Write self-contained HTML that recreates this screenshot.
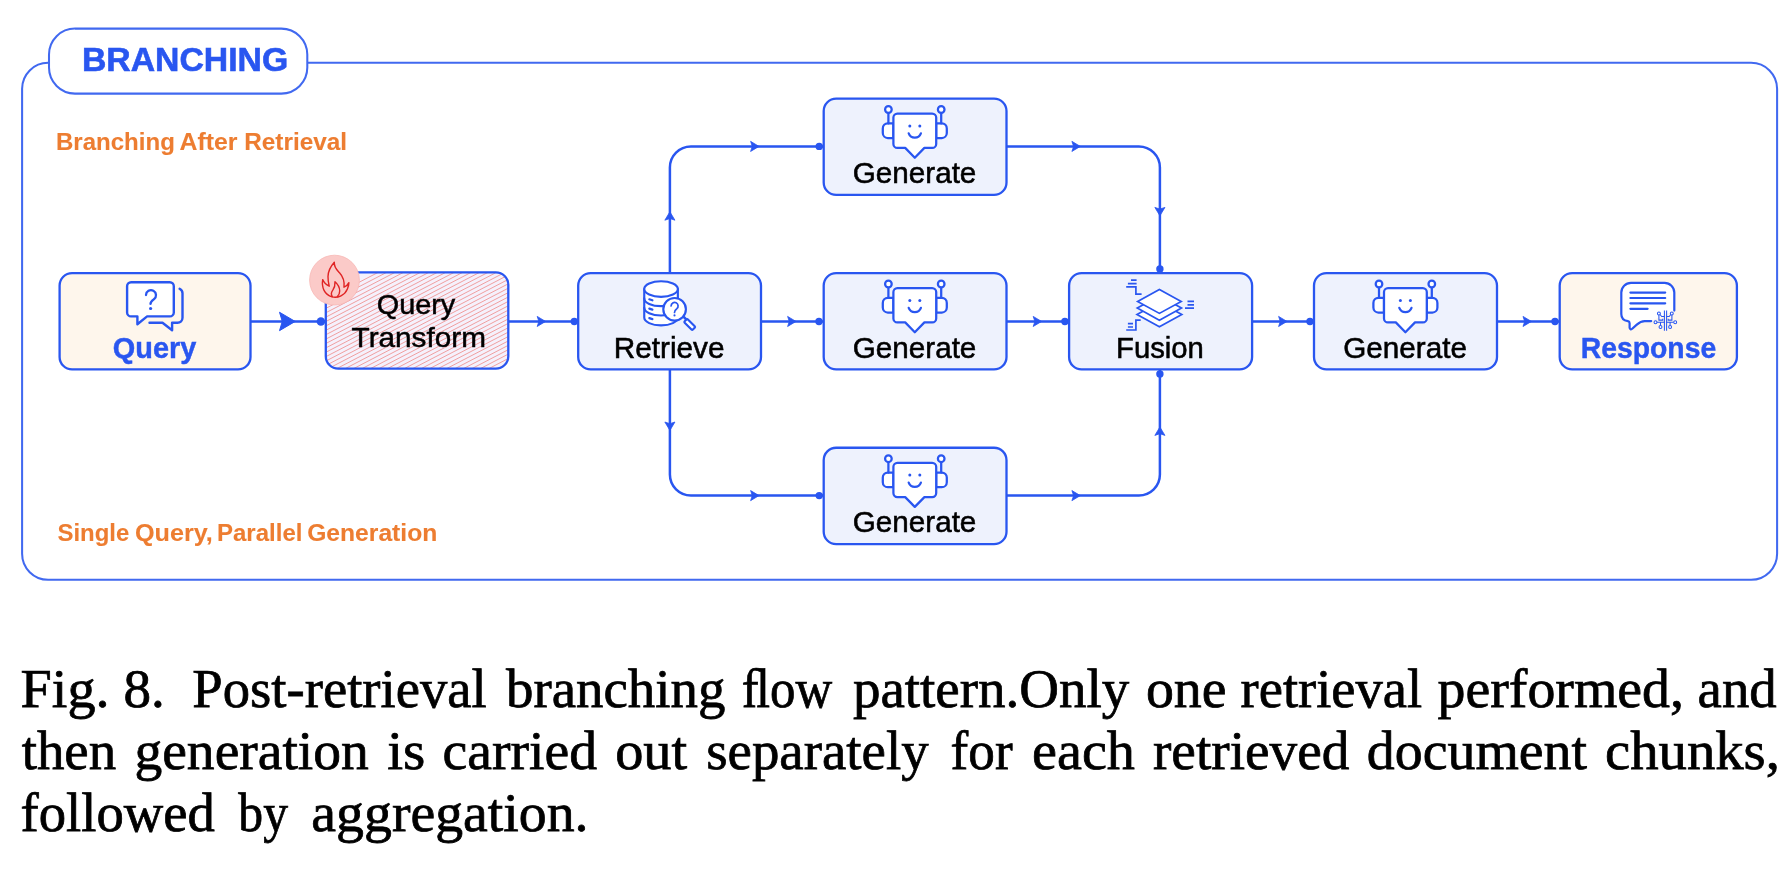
<!DOCTYPE html>
<html><head><meta charset="utf-8"><title>Fig. 8 Branching</title>
<style>
html,body{margin:0;padding:0;background:#fff;}
body{width:1792px;height:875px;overflow:hidden;font-family:"Liberation Sans",sans-serif;}
svg{display:block;}
text{white-space:pre;}
</style></head><body>
<svg width="1792" height="875" viewBox="0 0 1792 875">
<defs>
<filter id="gray" filterUnits="userSpaceOnUse" x="0" y="0" width="1792" height="875"><feOffset dx="0" dy="0"/></filter>
</defs>
<rect x="22.1" y="62.8" width="1755.0" height="517.0" rx="26" ry="26" fill="none" stroke="#4169F0" stroke-width="2.05"/>
<rect x="49" y="28.6" width="258.3" height="65" rx="26" ry="26" fill="#fff" stroke="#4169F0" stroke-width="2.05"/>
<g fill="none" stroke="#2956F0" stroke-width="2.5">
<path d="M250.3 321.45 H325.8 M508.4 321.45 H578.2 M761 321.45 H823.4 M1006.4 321.45 H1069.1 M1252.1 321.45 H1314 M1497 321.45 H1560"/>
<path d="M669.9 273.05 V167.4 a21 21 0 0 1 21 -21 H823.4 M1006.4 146.4 H1138.9 a21 21 0 0 1 21 21 V273.05"/>
<path d="M669.9 369.45 V474.6 a21 21 0 0 0 21 21 H823.4 M1006.4 495.6 H1138.9 a21 21 0 0 0 21 -21 V369.45"/>
</g>
<path d="M295.2 321.45 L279.5 312.25 L282.3 321.45 L279.5 330.65 Z" fill="#2956F0" stroke="#2956F0" stroke-width="1" stroke-linejoin="round"/>
<circle cx="320.9" cy="321.45" r="4.3" fill="#2956F0"/>
<path d="M545.6 321.45 L537.2 316.4 L538.9000000000001 321.45 L537.2 326.5 Z" fill="#2956F0" stroke="#2956F0" stroke-width="0.8" stroke-linejoin="round"/>
<path d="M796 321.45 L787.6 316.4 L789.3000000000001 321.45 L787.6 326.5 Z" fill="#2956F0" stroke="#2956F0" stroke-width="0.8" stroke-linejoin="round"/>
<path d="M1041.6 321.45 L1033.1999999999998 316.4 L1034.8999999999999 321.45 L1033.1999999999998 326.5 Z" fill="#2956F0" stroke="#2956F0" stroke-width="0.8" stroke-linejoin="round"/>
<path d="M1287 321.45 L1278.6 316.4 L1280.3 321.45 L1278.6 326.5 Z" fill="#2956F0" stroke="#2956F0" stroke-width="0.8" stroke-linejoin="round"/>
<path d="M1531.4 321.45 L1523.0 316.4 L1524.7 321.45 L1523.0 326.5 Z" fill="#2956F0" stroke="#2956F0" stroke-width="0.8" stroke-linejoin="round"/>
<circle cx="574.3" cy="321.45" r="3.7" fill="#2956F0"/>
<circle cx="819" cy="321.45" r="3.7" fill="#2956F0"/>
<circle cx="1064.9" cy="321.45" r="3.7" fill="#2956F0"/>
<circle cx="1310" cy="321.45" r="3.7" fill="#2956F0"/>
<circle cx="1555.0" cy="321.45" r="3.7" fill="#2956F0"/>
<path d="M669.9 211.8 L664.85 220.20000000000002 L669.9 218.50000000000003 L674.9499999999999 220.20000000000002 Z" fill="#2956F0" stroke="#2956F0" stroke-width="0.8" stroke-linejoin="round"/>
<path d="M759 146.4 L750.6 141.35 L752.3000000000001 146.4 L750.6 151.45000000000002 Z" fill="#2956F0" stroke="#2956F0" stroke-width="0.8" stroke-linejoin="round"/>
<circle cx="819.2" cy="146.4" r="3.7" fill="#2956F0"/>
<path d="M1080.3 146.4 L1071.8999999999999 141.35 L1073.6 146.4 L1071.8999999999999 151.45000000000002 Z" fill="#2956F0" stroke="#2956F0" stroke-width="0.8" stroke-linejoin="round"/>
<path d="M1159.9 215.8 L1154.8500000000001 207.4 L1159.9 209.1 L1164.95 207.4 Z" fill="#2956F0" stroke="#2956F0" stroke-width="0.8" stroke-linejoin="round"/>
<circle cx="1159.9" cy="268.9" r="3.7" fill="#2956F0"/>
<path d="M669.9 430.4 L664.85 422.0 L669.9 423.7 L674.9499999999999 422.0 Z" fill="#2956F0" stroke="#2956F0" stroke-width="0.8" stroke-linejoin="round"/>
<path d="M759 495.6 L750.6 490.55 L752.3000000000001 495.6 L750.6 500.65000000000003 Z" fill="#2956F0" stroke="#2956F0" stroke-width="0.8" stroke-linejoin="round"/>
<circle cx="819.2" cy="495.6" r="3.7" fill="#2956F0"/>
<path d="M1080.3 495.6 L1071.8999999999999 490.55 L1073.6 495.6 L1071.8999999999999 500.65000000000003 Z" fill="#2956F0" stroke="#2956F0" stroke-width="0.8" stroke-linejoin="round"/>
<path d="M1159.9 427 L1154.8500000000001 435.4 L1159.9 433.7 L1164.95 435.4 Z" fill="#2956F0" stroke="#2956F0" stroke-width="0.8" stroke-linejoin="round"/>
<circle cx="1159.9" cy="373.9" r="3.7" fill="#2956F0"/>
<rect x="59.6" y="273.05" width="190.90" height="96.40" rx="12.5" ry="12.5" fill="#FEF6EC" stroke="#2956F0" stroke-width="2.3" />
<clipPath id="qtclip"><rect x="325.8" y="272.3" width="182.5" height="96.4" rx="12.5" ry="12.5"/></clipPath>
<rect x="325.8" y="272.3" width="182.5" height="96.4" rx="12.5" ry="12.5" fill="#F5F1FC"/>
<path clip-path="url(#qtclip)" d="M-57.10 498.70 L442.90 238.70 M-48.65 498.70 L451.35 238.70 M-40.20 498.70 L459.80 238.70 M-31.75 498.70 L468.25 238.70 M-23.30 498.70 L476.70 238.70 M-14.85 498.70 L485.15 238.70 M-6.40 498.70 L493.60 238.70 M2.05 498.70 L502.05 238.70 M10.50 498.70 L510.50 238.70 M18.95 498.70 L518.95 238.70 M27.40 498.70 L527.40 238.70 M35.85 498.70 L535.85 238.70 M44.30 498.70 L544.30 238.70 M52.75 498.70 L552.75 238.70 M61.20 498.70 L561.20 238.70 M69.65 498.70 L569.65 238.70 M78.10 498.70 L578.10 238.70 M86.55 498.70 L586.55 238.70 M95.00 498.70 L595.00 238.70 M103.45 498.70 L603.45 238.70 M111.90 498.70 L611.90 238.70 M120.35 498.70 L620.35 238.70 M128.80 498.70 L628.80 238.70 M137.25 498.70 L637.25 238.70 M145.70 498.70 L645.70 238.70 M154.15 498.70 L654.15 238.70 M162.60 498.70 L662.60 238.70 M171.05 498.70 L671.05 238.70 M179.50 498.70 L679.50 238.70 M187.95 498.70 L687.95 238.70 M196.40 498.70 L696.40 238.70 M204.85 498.70 L704.85 238.70 M213.30 498.70 L713.30 238.70 M221.75 498.70 L721.75 238.70 M230.20 498.70 L730.20 238.70 M238.65 498.70 L738.65 238.70 M247.10 498.70 L747.10 238.70 M255.55 498.70 L755.55 238.70 M264.00 498.70 L764.00 238.70 M272.45 498.70 L772.45 238.70 M280.90 498.70 L780.90 238.70 M289.35 498.70 L789.35 238.70 M297.80 498.70 L797.80 238.70 M306.25 498.70 L806.25 238.70 M314.70 498.70 L814.70 238.70 M323.15 498.70 L823.15 238.70 M331.60 498.70 L831.60 238.70 M340.05 498.70 L840.05 238.70 M348.50 498.70 L848.50 238.70 M356.95 498.70 L856.95 238.70 M365.40 498.70 L865.40 238.70 M373.85 498.70 L873.85 238.70 M382.30 498.70 L882.30 238.70 M390.75 498.70 L890.75 238.70 M399.20 498.70 L899.20 238.70 M407.65 498.70 L907.65 238.70 M416.10 498.70 L916.10 238.70 M424.55 498.70 L924.55 238.70 M433.00 498.70 L933.00 238.70 M441.45 498.70 L941.45 238.70 M449.90 498.70 L949.90 238.70 M458.35 498.70 L958.35 238.70 M466.80 498.70 L966.80 238.70 M475.25 498.70 L975.25 238.70 M483.70 498.70 L983.70 238.70 M492.15 498.70 L992.15 238.70 M500.60 498.70 L1000.60 238.70 M509.05 498.70 L1009.05 238.70" fill="none" stroke="#EF9A9A" stroke-width="0.95"/>
<rect x="325.8" y="272.3" width="182.50" height="96.40" rx="12.5" ry="12.5" fill="none" stroke="#2956F0" stroke-width="2.3" />
<rect x="578.2" y="273.05" width="182.80" height="96.40" rx="12.5" ry="12.5" fill="#EEF2FD" stroke="#2956F0" stroke-width="2.3" />
<rect x="823.7" y="273.05" width="182.80" height="96.40" rx="12.5" ry="12.5" fill="#EEF2FD" stroke="#2956F0" stroke-width="2.3" />
<rect x="823.7" y="98.55000000000001" width="182.80" height="96.40" rx="12.5" ry="12.5" fill="#EEF2FD" stroke="#2956F0" stroke-width="2.3" />
<rect x="823.7" y="447.75" width="182.80" height="96.40" rx="12.5" ry="12.5" fill="#EEF2FD" stroke="#2956F0" stroke-width="2.3" />
<rect x="1069.1" y="273.05" width="183.00" height="96.40" rx="12.5" ry="12.5" fill="#EEF2FD" stroke="#2956F0" stroke-width="2.3" />
<rect x="1314" y="273.05" width="183.00" height="96.40" rx="12.5" ry="12.5" fill="#EEF2FD" stroke="#2956F0" stroke-width="2.3" />
<rect x="1559.7" y="273.05" width="177.20" height="96.40" rx="12.5" ry="12.5" fill="#FEF6EC" stroke="#2956F0" stroke-width="2.3" />
<g fill="none" stroke="#2956F0" stroke-width="2.4" stroke-linejoin="round" stroke-linecap="round"><path d="M179.6 288.8 C181.4 289.8 182.5 291.2 182.5 293.2 V317.8 a5 5 0 0 1 -5 5 H172.1 V330.2 L162.5 322.8 H149.5"/><path fill="#fff" d="M131.1 282.3 H169.8 a4 4 0 0 1 4 4 V312.4 a4 4 0 0 1 -4 4 H147.1 L137.4 324.2 V316.4 H131.1 a4 4 0 0 1 -4 -4 V286.3 a4 4 0 0 1 4 -4 Z"/><path stroke-width="2.3" d="M146 295 a5 5 0 1 1 7.9 4.2 c-2.2 1.6 -3.4 2.4 -3.4 4.7"/></g><circle cx="150.6" cy="308.5" r="1.6" fill="#2956F0"/>
<circle cx="334.5" cy="280.1" r="24.9" fill="#FBCAC8" stroke="#F7B7B5" stroke-width="0.8"/><g fill="none" stroke="#E02424" stroke-width="1.4" stroke-linejoin="round" stroke-linecap="round"><path d="M334.3 262.3 C330.6 266.4 328.2 270.8 328 276.5 C327.9 280.5 328.6 283.6 329.2 286.2 C326.2 284.9 324 282.8 322.7 279.6 C321.4 287.5 324.5 294.5 332 296.9 C338 298.4 344.8 295.2 347.4 289 C348.4 286.6 348.9 284.6 348.9 282.6 C347.8 284.8 346.3 286.3 344 287.2 C344.6 281.8 343.4 277 339.5 272.8 C336.6 269.7 333.8 267.3 334.3 262.3 Z"/><path d="M332.3 296.6 C330.6 294.2 331.2 292.3 332.8 290.2 C334.4 287.9 335.2 285.2 335 281.7 C337.8 284.1 339.7 287.6 339.7 291 C339.7 293.3 338.8 295.2 337.4 296.6"/></g>
<g fill="#fff" stroke="#2956F0" stroke-width="2.15" stroke-linejoin="round" stroke-linecap="round"><path d="M644.25 289 V317.6 a16.8 7.8 0 0 0 33.6 0 V289 Z"/><path d="M644.25 298.4 a16.8 7.8 0 0 0 33.6 0" fill="none"/><path d="M644.25 307.7 a16.8 7.8 0 0 0 33.6 0" fill="none"/><ellipse cx="661.05" cy="289" rx="16.8" ry="7.8"/><path d="M649.3 299.3 L652.4 300.3" fill="none" stroke-width="2.2"/><path d="M649.3 308.6 L652.4 309.6" fill="none" stroke-width="2.2"/><path d="M649.3 318.1 L652.4 319.1" fill="none" stroke-width="2.2"/><path d="M683.2 316.4 L686.2 319.4" fill="none" stroke-width="2.6"/><rect x="-2.3" y="0" width="4.6" height="11.6" rx="1" transform="translate(685.6 320.4) rotate(-45)"/><circle cx="674.6" cy="309.3" r="11.3"/><path stroke-width="1.7" fill="none" d="M671.1 305.9 a3.5 3.5 0 1 1 5.7 2.8 c-1.6 1.2 -2.3 1.9 -2.3 3.8"/></g><circle cx="674.5" cy="315.4" r="1.05" fill="#2956F0"/>
<g fill="#fff" stroke="#2956F0" stroke-width="2.25" stroke-linejoin="round" stroke-linecap="round"><path d="M893.4 297.9 H887.8 a5 5 0 0 0 -5 5 V307.5 a5 5 0 0 0 5 5 H893.4 Z"/><path d="M936.1999999999999 297.9 H941.8 a5 5 0 0 1 5 5 V307.5 a5 5 0 0 1 -5 5 H936.1999999999999 Z"/><path d="M888.4 287.4 V297.9 M941.1999999999999 287.4 V297.9" fill="none"/><circle cx="888.4" cy="284.0" r="3.3"/><circle cx="941.1999999999999" cy="284.0" r="3.3"/><path d="M897.4 288.1 H932.1999999999999 a4 4 0 0 1 4 4 V318.4 a4 4 0 0 1 -4 4 H924.4 L914.8 332.2 L905.1999999999999 322.4 H897.4 a4 4 0 0 1 -4 -4 V292.1 a4 4 0 0 1 4 -4 Z"/><path d="M908.6999999999999 307.9 a6.5 6.5 0 0 0 12.2 0" fill="none"/></g><circle cx="909.8" cy="300.4" r="1.5" fill="#2956F0"/><circle cx="919.8" cy="300.4" r="1.5" fill="#2956F0"/>
<g fill="#fff" stroke="#2956F0" stroke-width="2.25" stroke-linejoin="round" stroke-linecap="round"><path d="M893.4 123.4 H887.8 a5 5 0 0 0 -5 5 V133.0 a5 5 0 0 0 5 5 H893.4 Z"/><path d="M936.1999999999999 123.4 H941.8 a5 5 0 0 1 5 5 V133.0 a5 5 0 0 1 -5 5 H936.1999999999999 Z"/><path d="M888.4 112.9 V123.4 M941.1999999999999 112.9 V123.4" fill="none"/><circle cx="888.4" cy="109.5" r="3.3"/><circle cx="941.1999999999999" cy="109.5" r="3.3"/><path d="M897.4 113.6 H932.1999999999999 a4 4 0 0 1 4 4 V143.9 a4 4 0 0 1 -4 4 H924.4 L914.8 157.7 L905.1999999999999 147.9 H897.4 a4 4 0 0 1 -4 -4 V117.6 a4 4 0 0 1 4 -4 Z"/><path d="M908.6999999999999 133.4 a6.5 6.5 0 0 0 12.2 0" fill="none"/></g><circle cx="909.8" cy="125.9" r="1.5" fill="#2956F0"/><circle cx="919.8" cy="125.9" r="1.5" fill="#2956F0"/>
<g fill="#fff" stroke="#2956F0" stroke-width="2.25" stroke-linejoin="round" stroke-linecap="round"><path d="M893.4 472.6 H887.8 a5 5 0 0 0 -5 5 V482.2 a5 5 0 0 0 5 5 H893.4 Z"/><path d="M936.1999999999999 472.6 H941.8 a5 5 0 0 1 5 5 V482.2 a5 5 0 0 1 -5 5 H936.1999999999999 Z"/><path d="M888.4 462.1 V472.6 M941.1999999999999 462.1 V472.6" fill="none"/><circle cx="888.4" cy="458.7" r="3.3"/><circle cx="941.1999999999999" cy="458.7" r="3.3"/><path d="M897.4 462.8 H932.1999999999999 a4 4 0 0 1 4 4 V493.1 a4 4 0 0 1 -4 4 H924.4 L914.8 506.9 L905.1999999999999 497.1 H897.4 a4 4 0 0 1 -4 -4 V466.8 a4 4 0 0 1 4 -4 Z"/><path d="M908.6999999999999 482.6 a6.5 6.5 0 0 0 12.2 0" fill="none"/></g><circle cx="909.8" cy="475.1" r="1.5" fill="#2956F0"/><circle cx="919.8" cy="475.1" r="1.5" fill="#2956F0"/>
<g fill="#fff" stroke="#2956F0" stroke-width="1.7" stroke-linejoin="miter"><path d="M1137.0 314.5 L1159.4 302.2 L1181.8000000000002 314.5 L1159.4 326.8 Z"/><path d="M1137.3000000000002 308.1 L1159.4 296.0 L1181.5 308.1 L1159.4 320.20000000000005 Z"/><path d="M1137.6000000000001 301.4 L1159.4 289.4 L1181.2 301.4 L1159.4 313.4 Z"/></g><g fill="none" stroke="#2956F0" stroke-width="1.7"><path d="M1131 280.1 H1136.6 M1127.9 283.6 H1136.6 M1126.2 286.8 H1135.9 V294.1 H1141.6"/><path d="M1187.5 301.4 H1194 M1187.5 304.8 H1194 M1185 308.1 H1194"/><path d="M1140.7 320.2 H1135.9 V330 H1126.2 M1127.9 323.7 H1133 M1127.9 327 H1133"/></g>
<g fill="#fff" stroke="#2956F0" stroke-width="2.25" stroke-linejoin="round" stroke-linecap="round"><path d="M1384.0 297.9 H1378.4 a5 5 0 0 0 -5 5 V307.5 a5 5 0 0 0 5 5 H1384.0 Z"/><path d="M1426.8000000000002 297.9 H1432.4 a5 5 0 0 1 5 5 V307.5 a5 5 0 0 1 -5 5 H1426.8000000000002 Z"/><path d="M1379.0 287.4 V297.9 M1431.8000000000002 287.4 V297.9" fill="none"/><circle cx="1379.0" cy="284.0" r="3.3"/><circle cx="1431.8000000000002" cy="284.0" r="3.3"/><path d="M1388.0 288.1 H1422.8000000000002 a4 4 0 0 1 4 4 V318.4 a4 4 0 0 1 -4 4 H1415.0 L1405.4 332.2 L1395.8000000000002 322.4 H1388.0 a4 4 0 0 1 -4 -4 V292.1 a4 4 0 0 1 4 -4 Z"/><path d="M1399.3000000000002 307.9 a6.5 6.5 0 0 0 12.2 0" fill="none"/></g><circle cx="1400.4" cy="300.4" r="1.5" fill="#2956F0"/><circle cx="1410.4" cy="300.4" r="1.5" fill="#2956F0"/>
<g fill="none" stroke="#2956F0" stroke-width="2.2" stroke-linejoin="round" stroke-linecap="round"><path fill="#fff" d="M1674.3 310.6 V292.6 a9.7 9.7 0 0 0 -9.7 -9.7 H1631 a9.7 9.7 0 0 0 -9.7 9.7 V314 c0 4.2 2.8 6.6 6.6 7.2 c1.2 0.2 1.7 0.8 1.7 2 V327.6 c0 1.6 1.5 2.2 2.6 1.2 l4.6 -4.2 c2.4 -2.2 4.4 -3.5 8 -3.5 H1651.2"/><path d="M1630.4 292.6 H1665.2 M1630.4 298 H1665.2 M1630.4 303.3 H1665.2 M1630.4 308.8 H1647.6"/></g><g fill="none" stroke="#2956F0" stroke-width="1.05"><path d="M1664.4 310.5 V330.8 M1666.6 310.5 V330.8"/><path d="M1658.9 315 V320.1 H1662.8 V318.8 M1660 314.5 L1661.7 316.5 H1664.4 M1657 322.2 H1664.4 M1660.5 325.5 V322.2"/><path d="M1671.9 315 V320.1 H1668.2 V318.8 M1670.8 314.5 L1669.2 316.5 H1666.6 M1673.8 322.2 H1666.6 M1670.1 325.5 V322.2"/><circle cx="1658.9" cy="313.5" r="1.45" fill="#fff"/><circle cx="1655.5" cy="322.3" r="1.45" fill="#fff"/><circle cx="1660.5" cy="327" r="1.45" fill="#fff"/><circle cx="1671.8" cy="313.5" r="1.45" fill="#fff"/><circle cx="1675.2" cy="322.3" r="1.45" fill="#fff"/><circle cx="1670.1" cy="327" r="1.45" fill="#fff"/></g>
<g id="labels" filter="url(#gray)">
<text x="20.63" y="707.30" font-family='"Liberation Serif", serif' font-weight="400" font-size="55.0" fill="#000" stroke="#000" stroke-width="0.75" textLength="88.89" lengthAdjust="spacingAndGlyphs">Fig.</text>
<text x="123.42" y="707.30" font-family='"Liberation Serif", serif' font-weight="400" font-size="55.0" fill="#000" stroke="#000" stroke-width="0.75" textLength="41.35" lengthAdjust="spacingAndGlyphs">8.</text>
<text x="192.36" y="707.30" font-family='"Liberation Serif", serif' font-weight="400" font-size="55.0" fill="#000" stroke="#000" stroke-width="0.75" textLength="294.39" lengthAdjust="spacingAndGlyphs">Post-retrieval</text>
<text x="506.02" y="707.30" font-family='"Liberation Serif", serif' font-weight="400" font-size="55.0" fill="#000" stroke="#000" stroke-width="0.75" textLength="219.36" lengthAdjust="spacingAndGlyphs">branching</text>
<text x="741.66" y="707.30" font-family='"Liberation Serif", serif' font-weight="400" font-size="55.0" fill="#000" stroke="#000" stroke-width="0.75" textLength="90.47" lengthAdjust="spacingAndGlyphs">ﬂow</text>
<text x="852.93" y="707.30" font-family='"Liberation Serif", serif' font-weight="400" font-size="55.0" fill="#000" stroke="#000" stroke-width="0.75" textLength="276.38" lengthAdjust="spacingAndGlyphs">pattern.Only</text>
<text x="1145.91" y="707.30" font-family='"Liberation Serif", serif' font-weight="400" font-size="55.0" fill="#000" stroke="#000" stroke-width="0.75" textLength="80.66" lengthAdjust="spacingAndGlyphs">one</text>
<text x="1240.58" y="707.30" font-family='"Liberation Serif", serif' font-weight="400" font-size="55.0" fill="#000" stroke="#000" stroke-width="0.75" textLength="181.59" lengthAdjust="spacingAndGlyphs">retrieval</text>
<text x="1437.53" y="707.30" font-family='"Liberation Serif", serif' font-weight="400" font-size="55.0" fill="#000" stroke="#000" stroke-width="0.75" textLength="246.44" lengthAdjust="spacingAndGlyphs">performed,</text>
<text x="1697.62" y="707.30" font-family='"Liberation Serif", serif' font-weight="400" font-size="55.0" fill="#000" stroke="#000" stroke-width="0.75" textLength="79.06" lengthAdjust="spacingAndGlyphs">and</text>
<text x="21.67" y="768.60" font-family='"Liberation Serif", serif' font-weight="400" font-size="55.0" fill="#000" stroke="#000" stroke-width="0.75" textLength="94.56" lengthAdjust="spacingAndGlyphs">then</text>
<text x="134.46" y="768.60" font-family='"Liberation Serif", serif' font-weight="400" font-size="55.0" fill="#000" stroke="#000" stroke-width="0.75" textLength="234.35" lengthAdjust="spacingAndGlyphs">generation</text>
<text x="387.21" y="768.60" font-family='"Liberation Serif", serif' font-weight="400" font-size="55.0" fill="#000" stroke="#000" stroke-width="0.75" textLength="38.15" lengthAdjust="spacingAndGlyphs">is</text>
<text x="442.51" y="768.60" font-family='"Liberation Serif", serif' font-weight="400" font-size="55.0" fill="#000" stroke="#000" stroke-width="0.75" textLength="154.66" lengthAdjust="spacingAndGlyphs">carried</text>
<text x="615.19" y="768.60" font-family='"Liberation Serif", serif' font-weight="400" font-size="55.0" fill="#000" stroke="#000" stroke-width="0.75" textLength="72.02" lengthAdjust="spacingAndGlyphs">out</text>
<text x="706.22" y="768.60" font-family='"Liberation Serif", serif' font-weight="400" font-size="55.0" fill="#000" stroke="#000" stroke-width="0.75" textLength="222.37" lengthAdjust="spacingAndGlyphs">separately</text>
<text x="950.61" y="768.60" font-family='"Liberation Serif", serif' font-weight="400" font-size="55.0" fill="#000" stroke="#000" stroke-width="0.75" textLength="62.04" lengthAdjust="spacingAndGlyphs">for</text>
<text x="1032.06" y="768.60" font-family='"Liberation Serif", serif' font-weight="400" font-size="55.0" fill="#000" stroke="#000" stroke-width="0.75" textLength="102.88" lengthAdjust="spacingAndGlyphs">each</text>
<text x="1152.97" y="768.60" font-family='"Liberation Serif", serif' font-weight="400" font-size="55.0" fill="#000" stroke="#000" stroke-width="0.75" textLength="196.33" lengthAdjust="spacingAndGlyphs">retrieved</text>
<text x="1366.87" y="768.60" font-family='"Liberation Serif", serif' font-weight="400" font-size="55.0" fill="#000" stroke="#000" stroke-width="0.75" textLength="220.15" lengthAdjust="spacingAndGlyphs">document</text>
<text x="1604.97" y="768.60" font-family='"Liberation Serif", serif' font-weight="400" font-size="55.0" fill="#000" stroke="#000" stroke-width="0.75" textLength="174.92" lengthAdjust="spacingAndGlyphs">chunks,</text>
<text x="20.58" y="831.40" font-family='"Liberation Serif", serif' font-weight="400" font-size="55.0" fill="#000" stroke="#000" stroke-width="0.75" textLength="194.29" lengthAdjust="spacingAndGlyphs">followed</text>
<text x="238.33" y="831.40" font-family='"Liberation Serif", serif' font-weight="400" font-size="55.0" fill="#000" stroke="#000" stroke-width="0.75" textLength="49.62" lengthAdjust="spacingAndGlyphs">by</text>
<text x="311.39" y="831.40" font-family='"Liberation Serif", serif' font-weight="400" font-size="55.0" fill="#000" stroke="#000" stroke-width="0.75" textLength="277.15" lengthAdjust="spacingAndGlyphs">aggregation.</text>
<text x="81.96" y="70.90" font-family='"Liberation Sans", sans-serif' font-weight="700" font-size="33.5" fill="#2956F0" stroke="#2956F0" stroke-width="0.6" textLength="206.28" lengthAdjust="spacingAndGlyphs">BRANCHING</text>
<text x="56.00" y="150.20" font-family='"Liberation Sans", sans-serif' font-weight="700" font-size="23.8" fill="#ED7D31" stroke="#ED7D31" stroke-width="0.1" textLength="118.81" lengthAdjust="spacingAndGlyphs">Branching</text>
<text x="179.52" y="150.20" font-family='"Liberation Sans", sans-serif' font-weight="700" font-size="23.8" fill="#ED7D31" stroke="#ED7D31" stroke-width="0.1" textLength="57.96" lengthAdjust="spacingAndGlyphs">After</text>
<text x="244.18" y="150.20" font-family='"Liberation Sans", sans-serif' font-weight="700" font-size="23.8" fill="#ED7D31" stroke="#ED7D31" stroke-width="0.1" textLength="102.91" lengthAdjust="spacingAndGlyphs">Retrieval</text>
<text x="57.53" y="540.50" font-family='"Liberation Sans", sans-serif' font-weight="700" font-size="23.8" fill="#ED7D31" stroke="#ED7D31" stroke-width="0.1" textLength="71.76" lengthAdjust="spacingAndGlyphs">Single</text>
<text x="134.92" y="540.50" font-family='"Liberation Sans", sans-serif' font-weight="700" font-size="23.8" fill="#ED7D31" stroke="#ED7D31" stroke-width="0.1" textLength="77.96" lengthAdjust="spacingAndGlyphs">Query,</text>
<text x="217.00" y="540.50" font-family='"Liberation Sans", sans-serif' font-weight="700" font-size="23.8" fill="#ED7D31" stroke="#ED7D31" stroke-width="0.1" textLength="85.39" lengthAdjust="spacingAndGlyphs">Parallel</text>
<text x="307.15" y="540.50" font-family='"Liberation Sans", sans-serif' font-weight="700" font-size="23.8" fill="#ED7D31" stroke="#ED7D31" stroke-width="0.1" textLength="130.17" lengthAdjust="spacingAndGlyphs">Generation</text>
<text x="112.75" y="357.70" font-family='"Liberation Sans", sans-serif' font-weight="700" font-size="30.2" fill="#2956F0" stroke="#2956F0" stroke-width="0.45" textLength="83.54" lengthAdjust="spacingAndGlyphs">Query</text>
<text x="376.73" y="314.00" font-family='"Liberation Sans", sans-serif' font-weight="400" font-size="28.0" fill="#000" stroke="#000" stroke-width="0.5" textLength="78.57" lengthAdjust="spacingAndGlyphs">Query</text>
<text x="351.58" y="347.05" font-family='"Liberation Sans", sans-serif' font-weight="400" font-size="28.0" fill="#000" stroke="#000" stroke-width="0.5" textLength="134.37" lengthAdjust="spacingAndGlyphs">Transform</text>
<text x="613.77" y="357.50" font-family='"Liberation Sans", sans-serif' font-weight="400" font-size="29.6" fill="#000" stroke="#000" stroke-width="0.55" textLength="110.70" lengthAdjust="spacingAndGlyphs">Retrieve</text>
<text x="852.71" y="357.50" font-family='"Liberation Sans", sans-serif' font-weight="400" font-size="29.6" fill="#000" stroke="#000" stroke-width="0.55" textLength="123.66" lengthAdjust="spacingAndGlyphs">Generate</text>
<text x="852.71" y="183.00" font-family='"Liberation Sans", sans-serif' font-weight="400" font-size="29.6" fill="#000" stroke="#000" stroke-width="0.55" textLength="123.66" lengthAdjust="spacingAndGlyphs">Generate</text>
<text x="852.71" y="532.20" font-family='"Liberation Sans", sans-serif' font-weight="400" font-size="29.6" fill="#000" stroke="#000" stroke-width="0.55" textLength="123.66" lengthAdjust="spacingAndGlyphs">Generate</text>
<text x="1116.11" y="357.50" font-family='"Liberation Sans", sans-serif' font-weight="400" font-size="29.6" fill="#000" stroke="#000" stroke-width="0.55" textLength="87.78" lengthAdjust="spacingAndGlyphs">Fusion</text>
<text x="1343.31" y="357.50" font-family='"Liberation Sans", sans-serif' font-weight="400" font-size="29.6" fill="#000" stroke="#000" stroke-width="0.55" textLength="123.66" lengthAdjust="spacingAndGlyphs">Generate</text>
<text x="1580.75" y="357.70" font-family='"Liberation Sans", sans-serif' font-weight="700" font-size="30.2" fill="#2956F0" stroke="#2956F0" stroke-width="0.45" textLength="135.45" lengthAdjust="spacingAndGlyphs">Response</text>
</g>
</svg>
</body></html>
